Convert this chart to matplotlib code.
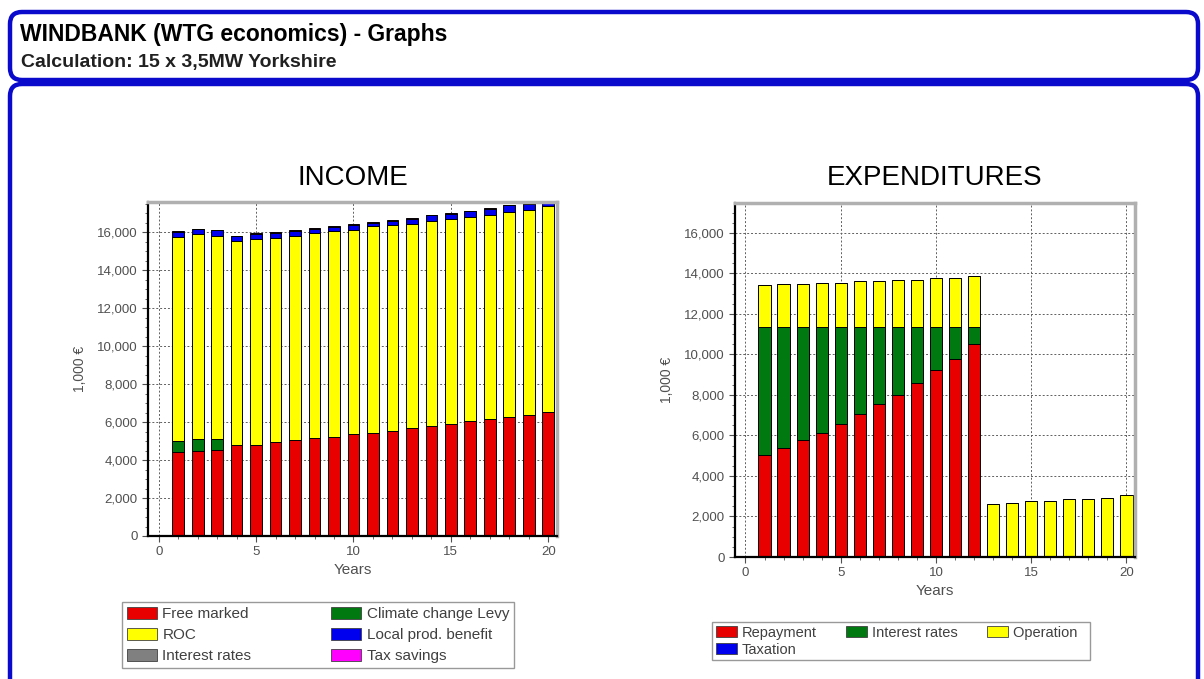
import matplotlib
matplotlib.use('Agg')
import matplotlib.pyplot as plt
import matplotlib.transforms as mtransforms
from matplotlib.patches import FancyBboxPatch, Patch
from matplotlib.ticker import MultipleLocator, FuncFormatter
import numpy as np

plt.rcParams['font.family'] = ['Liberation Sans', 'DejaVu Sans']

# ---------------- data ----------------
years = list(range(1, 21))

# income (1,000 EUR)
free_marked = [4420, 4500, 4550, 4770, 4800, 4950, 5030, 5180, 5200, 5380,
               5440, 5530, 5680, 5790, 5910, 6030, 6170, 6260, 6350, 6530]
climate_levy = [580, 620, 570, 0, 0, 0, 0, 0, 0, 0,
                0, 0, 0, 0, 0, 0, 0, 0, 0, 0]
roc = [10740, 10760, 10670, 10760, 10850, 10750, 10760, 10770, 10850, 10710,
       10860, 10820, 10760, 10790, 10770, 10760, 10710, 10790, 10790, 10820]
interest_income = [0] * 20
local_benefit = [260, 260, 300, 240, 260, 260, 260, 230, 210, 300,
                 190, 230, 260, 300, 280, 300, 350, 350, 350, 230]
tax_savings = [40] * 20

# expenditures (1,000 EUR)
repayment = [5020, 5400, 5790, 6140, 6580, 7050, 7540, 7980, 8590, 9220,
             9790, 10500, 0, 0, 0, 0, 0, 0, 0, 0]
interest_exp = [6340, 5960, 5570, 5220, 4780, 4310, 3820, 3380, 2770, 2140,
                1570, 860, 0, 0, 0, 0, 0, 0, 0, 0]
operation = [2060, 2140, 2140, 2170, 2170, 2270, 2270, 2300, 2300, 2440,
             2440, 2500, 2630, 2680, 2750, 2750, 2880, 2880, 2930, 3050]
taxation = [0] * 20

RED = '#e80000'
YELLOW = '#ffff00'
GREEN = '#007a10'
BLUE = '#0000ee'
GRAY = '#808080'
MAGENTA = '#ff00ff'
FRAME = '#0a0acc'

fig = plt.figure(figsize=(12.04, 6.79), dpi=100)
fig.patch.set_facecolor('white')


def px_box(x0, y0, x1, y1):
   # image pixel coords (y down) -> display coords
   return x0, 679 - y1, x1 - x0, y1 - y0


# header frame and body frame
for (x0, y0, x1, y1) in [(10, 12, 1198, 80), (10, 84, 1198, 720)]:
   bx, by, bw, bh = px_box(x0, y0, x1, y1)
   box = FancyBboxPatch((bx, by), bw, bh, boxstyle='round,pad=0,rounding_size=12',
                        linewidth=3.2, edgecolor=FRAME, facecolor='none',
                        transform=mtransforms.IdentityTransform())
   fig.add_artist(box)

fig.text(20 / 1204, 1 - 35 / 679, 'WINDBANK (WTG economics) - Graphs', fontsize=16.5,
         fontweight='bold', va='center', ha='left')
fig.text(21 / 1204, 1 - 62 / 679, 'Calculation: 15 x 3,5MW Yorkshire', fontsize=14,
         fontweight='bold', va='center', ha='left', color='#202020')

thousands = FuncFormatter(lambda v, p: f'{int(v):,}')


def style_axes(ax, ymax):
   ax.set_xlim(-0.55, 20.45)
   ax.set_ylim(0, ymax)
   ax.xaxis.set_major_locator(MultipleLocator(5))
   ax.xaxis.set_minor_locator(MultipleLocator(1))
   ax.yaxis.set_major_locator(MultipleLocator(2000))
   ax.yaxis.set_minor_locator(MultipleLocator(500))
   ax.yaxis.set_major_formatter(thousands)
   ax.grid(True, which='major', linestyle=(0, (2, 2)), color='#606060', linewidth=0.7)
   ax.set_axisbelow(True)
   for side in ['left', 'bottom']:
      ax.spines[side].set_color('black')
      ax.spines[side].set_linewidth(1.6)
   for side in ['top', 'right']:
      ax.spines[side].set_color('#b0b0b0')
      ax.spines[side].set_linewidth(2.5)
   ax.tick_params(labelsize=9.5, colors='#505050', length=4, width=0.8)
   ax.tick_params(which='minor', length=2, colors='#505050')
   ax.set_xlabel('Years', fontsize=11, color='#505050', labelpad=3)
   ax.set_ylabel('1,000 €', fontsize=10, color='#505050', labelpad=7)


def stack(ax, series, colors, width):
   bottom = np.zeros(len(years))
   for vals, col in zip(series, colors):
      ax.bar(years, vals, width, bottom=bottom, color=col, edgecolor='black', linewidth=0.7)
      bottom += np.array(vals)


# ---------------- income ----------------
ax1 = fig.add_axes([148 / 1204, 1 - 536 / 679, 409 / 1204, 334 / 679])
stack(ax1, [free_marked, climate_levy, roc, interest_income, local_benefit, tax_savings],
      [RED, GREEN, YELLOW, GRAY, BLUE, MAGENTA], 0.6)
style_axes(ax1, 17580)
ax1.set_title('INCOME', fontsize=20, pad=12)

# ---------------- expenditures ----------------
ax2 = fig.add_axes([735 / 1204, 1 - 557 / 679, 400 / 1204, 354 / 679])
stack(ax2, [repayment, interest_exp, operation, taxation],
      [RED, GREEN, YELLOW, BLUE], 0.64)
style_axes(ax2, 17480)
ax2.set_title('EXPENDITURES', fontsize=20, pad=13)


def sw(col):
   return Patch(facecolor=col, edgecolor='#404040', linewidth=0.6)


leg1 = fig.legend([sw(RED), sw(YELLOW), sw(GRAY), sw(GREEN), sw(BLUE), sw(MAGENTA)],
                  ['Free marked', 'ROC', 'Interest rates', 'Climate change Levy',
                   'Local prod. benefit', 'Tax savings'],
                  ncol=2, loc='upper left', bbox_to_anchor=(122 / 1204, 1 - 602 / 679),
                  fontsize=11, frameon=True, fancybox=False, edgecolor='#808080',
                  handlelength=2.0, handleheight=0.9, columnspacing=5.2,
                  labelspacing=0.42, handletextpad=0.35, borderpad=0.3, borderaxespad=0)
for t in leg1.get_texts():
   t.set_color('#404040')

leg2 = fig.legend([sw(RED), sw(BLUE), sw(GREEN), sw(YELLOW)],
                  ['Repayment', 'Taxation', 'Interest rates', 'Operation  '],
                  ncol=3, loc='upper left', bbox_to_anchor=(712 / 1204, 1 - 622 / 679),
                  fontsize=10.5, frameon=True, fancybox=False, edgecolor='#808080',
                  handlelength=1.45, handleheight=0.85, columnspacing=2.0,
                  labelspacing=0.2, handletextpad=0.35, borderpad=0.25, borderaxespad=0)
for t in leg2.get_texts():
   t.set_color('#404040')

fig.savefig('out.png', dpi=100)
